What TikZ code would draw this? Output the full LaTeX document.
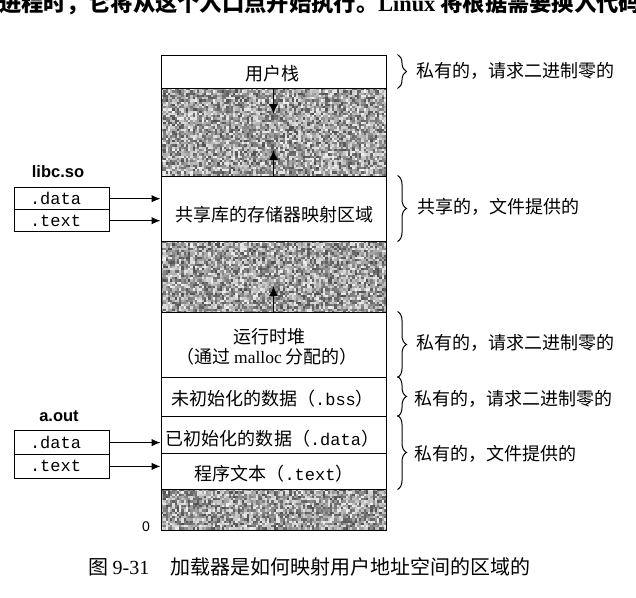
\documentclass[tikz,border=0pt]{standalone}
\usepackage{fontspec}
\setmainfont{Liberation Serif}
\setsansfont{Liberation Sans}
\setmonofont{Liberation Mono}
\newfontfamily\cjk{Noto Sans CJK SC}
\usetikzlibrary{arrows.meta,decorations.pathreplacing}

\newcommand\fsz[1]{\fontsize{#1}{#1}\selectfont}

% speckled fill of a band: x0, y0, width, height, last column, last row
\newcommand\grain[6]{%
  \begin{scope}
    \clip (#1,#2) rectangle ++(#3,#4);
    \foreach \gi in {0,...,#5}{%
      \foreach \gj in {0,...,#6}{%
        \pgfmathsetmacro\gl{int(6+64*rnd)}%
        \fill[black!\gl] (#1+\gi*2.25,#2+\gj*2.25) rectangle ++(2.3,2.3);%
      }}
  \end{scope}}

\begin{document}
\begin{tikzpicture}[x=1pt,y=-1pt,
  seg/.style={draw, line width=1pt, minimum width=225pt, inner sep=0pt},
  lab/.style={inner sep=0pt, font=\cjk\fsz{18}},
  rlab/.style={lab, anchor=west},
  lrow/.style={draw, line width=1pt, minimum width=95pt, minimum height=22pt,
    text width=63pt, inner xsep=16pt, inner ysep=0pt, align=left,
    font=\ttfamily\fsz{17}},
  fname/.style={inner sep=0pt, font=\sffamily\bfseries\fsz{16.5}},
  arr/.style={line width=1.1pt, -{Latex[length=9pt,width=7.5pt]}},
  growarrow/.style={line width=1.5pt, -{Latex[length=10pt,width=9pt]}},
  brace/.style={decorate, decoration={brace, amplitude=9pt}, line width=1pt}]

\useasboundingbox (0,0) rectangle (636,597);
\fill[white] (0,0) rectangle (636,597);

% running text of the page above the figure
\node[anchor=base west, inner sep=0pt, font=\cjk\bfseries\fsz{22.3}] (prose) at (-1,11)
  {进程时，它将从这个入口点开始执行。{\rmfamily Linux} 将根据需要换入代码};

% unmapped gaps between the areas
\pgfmathsetseed{7}
\grain{161}{88}{225}{88}{99}{39}
\grain{161}{241}{225}{71}{99}{31}
\grain{161}{489}{225}{41}{99}{18}

% the address space, top to bottom
\node[seg, minimum height=33pt] (stack)   at (273.5,71.5)  {};
\node[seg, minimum height=88pt] (gapA)    at (273.5,132)   {};
\node[seg, minimum height=65pt] (shlib)   at (273.5,208.5) {};
\node[seg, minimum height=71pt] (gapB)    at (273.5,276.5) {};
\node[seg, minimum height=65pt] (heap)    at (273.5,344.5) {};
\node[seg, minimum height=39pt] (segbss)  at (273.5,396.5) {};
\node[seg, minimum height=37pt] (segdata) at (273.5,434.5) {};
\node[seg, minimum height=36pt] (segtext) at (273.5,471)   {};
\node[seg, minimum height=41pt] (gapC)    at (273.5,509.5) {};

\node[lab] (stacklab) at (272,73.5) {用户栈};
\node[lab] (shliblab) at (274,215) {共享库的存储器映射区域};
\node[lab] (heaplab1) at (269,336.5) {运行时堆};
\node[lab] (heaplab2) at (267,357) {（通过 {\rmfamily\fsz{17.5}malloc} 分配的）};
\node[lab] (bsslab)   at (272.5,399) {未初始化的数据（{\ttfamily\fsz{17}.bss}）};
\node[lab] (datalab)  at (272.5,439) {已初始化的数据（{\ttfamily\fsz{17}.data}）};
\node[lab] (textlab)  at (274,474) {程序文本（{\ttfamily\fsz{17}.text}）};

% growth directions
\coordinate (stackgrow) at (273.5,114);
\coordinate (mmapgrow)  at (273.5,150);
\coordinate (heapgrow)  at (273.5,286);
\draw[growarrow] (stack.south) -- (stackgrow);
\draw[growarrow] (shlib.north) -- (mmapgrow);
\draw[growarrow] (heap.north) -- (heapgrow);

% shared library object
\node[fname] (libname) at (58,171.5) {libc.so};
\node[lrow] (libdata) at (61.5,198.7) {.data};
\node[lrow] (libtext) at (61.5,220.7) {.text};
\draw[arr] (libdata.east) -- (libdata.east -| shlib.west);
\draw[arr] (libtext.east) -- (libtext.east -| shlib.west);

% executable object
\node[fname] (aoutname) at (59,416) {a.out};
\node[lrow, minimum height=23.8pt] (aoutdata) at (61.5,442.6) {.data};
\node[lrow, minimum height=23.8pt] (aouttext) at (61.5,466.4) {.text};
\draw[arr] (aoutdata.east) -- (aoutdata.east -| segdata.west);
\draw[arr] (aouttext.east) -- (aouttext.east -| segtext.west);

\node[inner sep=0pt, font=\sffamily\fsz{14}] (zero) at (146,527) {0};

% how each area is backed
\draw[brace] ([xshift=11pt]stack.north east) -- ([xshift=11pt]stack.south east);
\draw[brace] ([xshift=11pt]shlib.north east) -- ([xshift=11pt]shlib.south east);
\draw[brace] ([xshift=11pt]heap.north east) -- ([xshift=11pt]heap.south east);
\draw[brace] ([xshift=11pt]segbss.north east) -- ([xshift=11pt]segbss.south east);
\draw[brace] ([xshift=11pt]segdata.north east) -- ([xshift=11pt]segtext.south east);

\node[rlab] (r1) at (416,71)  {私有的，请求二进制零的};
\node[rlab] (r2) at (417,207) {共享的，文件提供的};
\node[rlab] (r3) at (416,343) {私有的，请求二进制零的};
\node[rlab] (r4) at (414,399) {私有的，请求二进制零的};
\node[rlab] (r5) at (414,454) {私有的，文件提供的};

% figure caption
\node[anchor=west, inner sep=0pt, font=\cjk\fsz{20}] (capnum) at (88,567) {图 {\rmfamily 9-31}};
\node[anchor=west, inner sep=0pt, font=\cjk\fsz{20}] (captext) at (170,567) {加载器是如何映射用户地址空间的区域的};
\end{tikzpicture}
\end{document}
